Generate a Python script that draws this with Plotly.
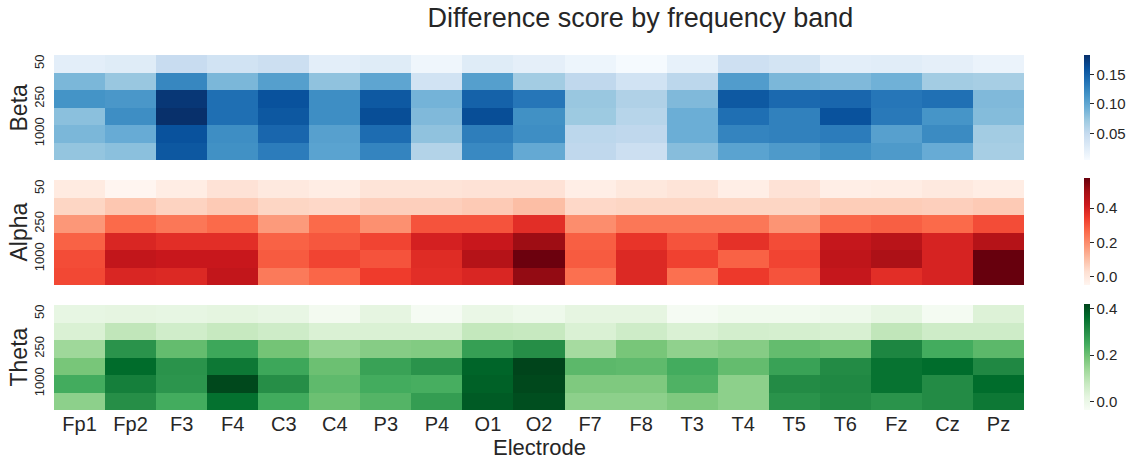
import plotly.graph_objects as go

electrodes = ["Fp1", "Fp2", "F3", "F4", "C3", "C4", "P3", "P4", "O1", "O2",
              "F7", "F8", "T3", "T4", "T5", "T6", "Fz", "Cz", "Pz"]
row_index = [0, 1, 2, 3, 4, 5]
y_tick_index = [0, 2, 4]
y_tick_labels = ["50", "250", "1000"]
bands = ["Beta", "Alpha", "Theta"]

beta = [
    [.023, .026, .048, .039, .044, .023, .026, .012, .026, .021, .014, .007, .019, .042, .037, .023, .025, .021, .016],
    [.087, .074, .124, .087, .106, .078, .101, .039, .106, .069, .053, .039, .055, .108, .087, .085, .092, .069, .067],
    [.115, .112, .178, .140, .160, .119, .155, .090, .149, .135, .074, .062, .085, .155, .144, .146, .135, .139, .085],
    [.080, .119, .183, .140, .156, .119, .163, .085, .163, .117, .072, .058, .094, .140, .128, .160, .133, .114, .083],
    [.087, .096, .160, .119, .146, .105, .142, .078, .130, .119, .055, .053, .094, .126, .128, .131, .105, .121, .069],
    [.076, .080, .156, .117, .131, .103, .126, .060, .122, .098, .053, .044, .082, .103, .110, .117, .110, .096, .067],
]
alpha = [
    [-.011, -.049, -.018, .020, -.005, -.018, .014, .014, .020, .020, -.024, .001, .014, -.024, .020, -.024, -.018, -.005, -.018],
    [.051, .082, .057, .076, .051, .045, .064, .064, .076, .101, .045, .051, .051, .051, .051, .070, .070, .064, .076],
    [.176, .264, .239, .264, .170, .264, .189, .301, .301, .370, .195, .239, .239, .239, .182, .270, .282, .264, .314],
    [.276, .389, .370, .370, .276, .295, .326, .401, .426, .507, .282, .357, .301, .364, .314, .432, .457, .395, .464],
    [.314, .439, .426, .426, .289, .326, .301, .376, .464, .570, .289, .382, .332, .276, .326, .445, .482, .395, .576],
    [.320, .389, .382, .439, .232, .270, .342, .370, .389, .520, .251, .382, .251, .345, .301, .432, .370, .395, .576],
]
theta = [
    [.014, .019, .014, .021, .010, -.022, .019, -.031, .005, -.009, .019, .019, -.031, -.018, -.018, -.009, .014, -.027, .037],
    [.042, .087, .060, .078, .064, .042, .042, .042, .083, .078, .042, .064, .042, .055, .051, .046, .087, .064, .064],
    [.137, .292, .210, .256, .192, .151, .169, .174, .270, .301, .128, .187, .156, .169, .210, .201, .315, .247, .219],
    [.187, .365, .292, .342, .256, .201, .265, .292, .374, .420, .219, .215, .247, .210, .265, .306, .352, .363, .311],
    [.247, .329, .288, .415, .301, .215, .247, .242, .379, .415, .178, .178, .233, .160, .306, .311, .352, .306, .363],
    [.160, .301, .247, .356, .249, .201, .228, .274, .388, .406, .160, .160, .178, .160, .292, .306, .292, .306, .342],
]

beta_range = [0.005, 0.183]
alpha_range = [-0.049, 0.576]
theta_range = [-0.036, 0.420]

beta_ticks = [0.05, 0.10, 0.15]
alpha_ticks = [0.0, 0.2, 0.4]
theta_ticks = [0.0, 0.2, 0.4]


def scale(colors):
    n = len(colors) - 1
    return [[i / n, c] for i, c in enumerate(colors)]


blues = scale(["#f7fbff", "#deebf7", "#c6dbef", "#9ecae1", "#6baed6",
               "#4292c6", "#2171b5", "#08519c", "#08306b"])
reds = scale(["#fff5f0", "#fee0d2", "#fcbba1", "#fc9272", "#fb6a4a",
              "#ef3b2c", "#cb181d", "#a50f15", "#67000d"])
greens = scale(["#f7fcf5", "#e5f5e0", "#c7e9c0", "#a1d99b", "#74c476",
                "#41ab5d", "#238b45", "#006d2c", "#00441b"])

TXT = "#262626"
FONT = "Arial, Liberation Sans, sans-serif"

W, H = 1133, 459
ML, MR, MT, MB = 54, 109, 55, 49
PW = W - ML - MR
PH = H - MT - MB

panels = [
    (beta, blues, beta_range, beta_ticks, ".2f", (55, 160)),
    (alpha, reds, alpha_range, alpha_ticks, ".1f", (178, 285)),
    (theta, greens, theta_range, theta_ticks, ".1f", (304, 410)),
]
heat_spans = [(55, 160), (180, 285), (305, 410)]

fig = go.Figure()
annotations = []
for i, (z, cs, rng, ticks, fmt, (ctop, cbot)) in enumerate(panels):
    k = "" if i == 0 else str(i + 1)
    top, bot = heat_spans[i]
    d0 = (H - MB - bot) / PH
    d1 = (H - MB - top) / PH
    c0 = (H - MB - cbot) / PH
    c1 = (H - MB - ctop) / PH
    fig.add_trace(go.Heatmap(
        z=z, x=electrodes, y=row_index,
        colorscale=cs, zmin=rng[0], zmax=rng[1],
        xaxis="x" + k, yaxis="y" + k,
        colorbar=dict(
            x=(1084 - ML) / PW, xanchor="left", xpad=0, ypad=0,
            y=(c0 + c1) / 2, yanchor="middle", len=c1 - c0, lenmode="fraction",
            thickness=6, outlinewidth=0,
            tickvals=ticks, tickformat=fmt,
            ticks="outside", ticklen=4, tickcolor=TXT, tickwidth=1,
            tickfont=dict(size=15, color=TXT, family=FONT),
        ),
        hoverongaps=False,
    ))
    fig.layout["xaxis" + k] = dict(
        domain=[0, 1], anchor="y" + k, type="category",
        showticklabels=(i == 2), showgrid=False, zeroline=False, showline=False,
        ticks="", tickfont=dict(size=20, color=TXT, family=FONT),
        matches=None if i == 0 else "x",
    )
    fig.layout["yaxis" + k] = dict(
        domain=[d0, d1], anchor="x" + k, autorange="reversed",
        tickvals=y_tick_index, ticktext=y_tick_labels, tickangle=-90,
        tickfont=dict(size=13, color=TXT, family=FONT),
        showgrid=False, zeroline=False, showline=False, ticks="",
        ticklabelstandoff=6,
    )
    annotations.append(dict(
        text=bands[i], xref="paper", yref="paper",
        x=(18 - ML) / PW, y=(d0 + d1) / 2, xanchor="center", yanchor="middle",
        textangle=-90, showarrow=False,
        font=dict(size=23, color=TXT, family=FONT),
    ))

annotations.append(dict(
    text="Electrode", xref="paper", yref="paper",
    x=(539 - ML) / PW, y=(H - MB - 447) / PH, xanchor="center", yanchor="middle",
    showarrow=False, font=dict(size=22, color=TXT, family=FONT),
))

fig.update_layout(
    width=W, height=H,
    margin=dict(l=ML, r=MR, t=MT, b=MB, autoexpand=False),
    paper_bgcolor="white", plot_bgcolor="white",
    title=dict(text="Difference score by frequency band",
               x=(640.5 - ML) / PW, xref="paper", xanchor="center",
               y=1 - 18 / H, yref="container", yanchor="middle",
               font=dict(size=27, color=TXT, family=FONT)),
    annotations=annotations,
    font=dict(family=FONT, color=TXT),
)

fig.write_html("out.html")
